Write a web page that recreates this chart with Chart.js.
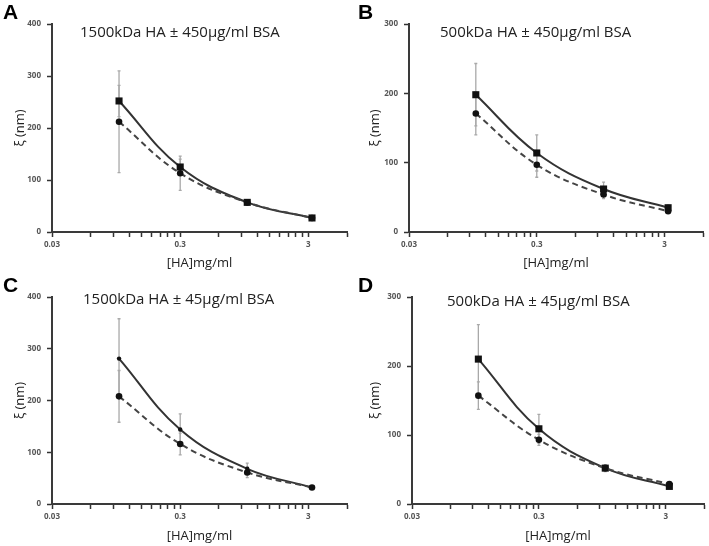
<!DOCTYPE html>
<html>
<head>
<meta charset="utf-8">
<script src="https://cdn.jsdelivr.net/npm/chart.js@4"></script>
<style>
  body { margin: 0; background: #fff; width: 709px; height: 546px; position: relative; overflow: hidden; }
  .panel { position: absolute; width: 354px; height: 273px; }
</style>
</head>
<body>
<div class="panel" style="left:0;top:0"><canvas id="panelA" width="354" height="273"></canvas></div>
<div class="panel" style="left:355px;top:0"><canvas id="panelB" width="354" height="273"></canvas></div>
<div class="panel" style="left:0;top:273px"><canvas id="panelC" width="354" height="273"></canvas></div>
<div class="panel" style="left:355px;top:273px"><canvas id="panelD" width="354" height="273"></canvas></div>

<script>
// concentraciones de HA (mg/ml), eje x logaritmico
const concentraciones = [0.1, 0.3, 1, 3.2]
const ticksMayores = [0.03, 0.3, 3]

// serie con cuadrados (linea continua) y serie con circulos (linea discontinua), xi en nm
const cuadradosA = [252, 125, 57, 27]
const circulosA = [212, 113, 57, 27]
const errCuadradosA = [30, 15, 5, 3]
const errCirculosA = [98, 33, 5, 3]

const cuadradosB = [198, 114, 62, 35]
const circulosB = [171, 97, 54, 30]
const errCuadradosB = [45, 26, 10, 4]
const errCirculosB = [31, 18, 6, 3]

const cuadradosC = [281, 144, 68, 32]
const circulosC = [208, 116, 61, 32]
const errCuadradosC = [77, 30, 11, 3]
const errCirculosC = [50, 21, 10, 3]

const cuadradosD = [210, 109, 52, 25.5]
const circulosD = [157, 93, 52, 29]
const errCuadradosD = [50, 21, 5, 3]
const errCirculosD = [20, 8, 4, 3]

const titulos = [
  '1500kDa HA \u00b1 450\u00b5g/ml BSA',
  '500kDa HA \u00b1 450\u00b5g/ml BSA',
  '1500kDa HA \u00b1 45\u00b5g/ml BSA',
  '500kDa HA \u00b1 45\u00b5g/ml BSA'
]

const barrasError = {
  id: 'barrasError',
  beforeDatasetsDraw(chart) {
    const ctx = chart.ctx
    const ex = chart.scales.x
    const ey = chart.scales.y
    ctx.save()
    ctx.strokeStyle = '#a9a9a9'
    ctx.lineWidth = 1.3
    chart.data.datasets.forEach(ds => {
      ds.errores.forEach((e, i) => {
        const p = ds.data[i]
        const px = ex.getPixelForValue(p.x)
        const arriba = ey.getPixelForValue(p.y + e)
        const abajo = ey.getPixelForValue(p.y - e)
        ctx.beginPath()
        ctx.moveTo(px, arriba)
        ctx.lineTo(px, abajo)
        ctx.moveTo(px - 1.5, arriba)
        ctx.lineTo(px + 1.5, arriba)
        ctx.moveTo(px - 1.5, abajo)
        ctx.lineTo(px + 1.5, abajo)
        ctx.stroke()
      })
    })
    ctx.restore()
  }
}

const textos = {
  id: 'textos',
  afterDraw(chart, args, opts) {
    const ctx = chart.ctx
    ctx.save()
    ctx.textBaseline = 'alphabetic'
    ctx.textAlign = 'left'
    ctx.fillStyle = '#000'
    ctx.font = 'bold 21px "Liberation Sans", Arial, sans-serif'
    ctx.fillText(opts.letra, 3, 19)
    ctx.fillStyle = '#222'
    ctx.font = '15px "Open Sans", sans-serif'
    ctx.fillText(opts.titulo, opts.tx, opts.ty)
    ctx.restore()
  }
}

function puntos(valores){
  return valores.map((v, i) => ({ x: concentraciones[i], y: v }))
}

function esMayor(v){
  return ticksMayores.some(m => Math.abs(v - m) < m * 0.01)
}

function crearPanel(id, letra, titulo, tx, ty, cuadrados, circulos, errCuad, errCirc, ymax, area, radioCuad, estiloCuad){
  const fuenteTicks = { family: '"Open Sans", sans-serif', size: 8, weight: 'bold' }
  const gridEjes = { display: true, drawOnChartArea: false, drawTicks: true, tickLength: 5, tickWidth: 1.5, tickColor: '#333', color: '#333' }
  new Chart(document.getElementById(id), {
    type: 'line',
    data: {
      datasets: [
        {
          data: puntos(circulos),
          errores: errCirc,
          borderColor: '#444',
          borderWidth: 2,
          borderDash: [6, 4],
          tension: 0.4,
          pointStyle: 'circle',
          pointRadius: 3.3,
          pointBackgroundColor: '#111',
          pointBorderColor: '#111',
          pointBorderWidth: 0
        },
        {
          data: puntos(cuadrados),
          errores: errCuad,
          borderColor: '#333',
          borderWidth: 2,
          tension: 0.4,
          pointStyle: estiloCuad,
          pointRadius: radioCuad,
          pointBackgroundColor: '#111',
          pointBorderColor: '#111',
          pointBorderWidth: 0
        }
      ]
    },
    options: {
      responsive: false,
      animation: false,
      events: [],
      layout: { padding: { left: 0, top: area.top, right: 354 - area.right, bottom: 0 } },
      plugins: {
        legend: { display: false },
        tooltip: { enabled: false },
        textos: { letra: letra, titulo: titulo, tx: tx, ty: ty }
      },
      scales: {
        x: {
          type: 'logarithmic',
          min: 0.03,
          max: 6,
          afterBuildTicks(escala){
            const lista = []
            ;[0.03, 0.3].forEach(m => {
              for(let k = 1; k <= 9; k++) lista.push({ value: m * k })
            })
            lista.push({ value: 3 }, { value: 6 })
            escala.ticks = lista
          },
          afterFit(escala){ escala.height = 273 - area.bottom },
          border: { display: true, color: '#3a3a3a', width: 2 },
          grid: gridEjes,
          ticks: {
            autoSkip: false,
            maxRotation: 0,
            padding: 3,
            color: '#555',
            font: fuenteTicks,
            callback: (v) => esMayor(v) ? String(Math.round(v * 100) / 100) : ''
          },
          title: {
            display: true,
            text: '[HA]mg/ml',
            color: '#222',
            font: { family: '"Open Sans", sans-serif', size: 13 },
            padding: { top: 0, bottom: 2 }
          }
        },
        y: {
          min: 0,
          max: ymax,
          afterFit(escala){ escala.width = area.left },
          border: { display: true, color: '#3a3a3a', width: 2 },
          grid: gridEjes,
          ticks: { stepSize: 100, padding: 6, color: '#555', font: fuenteTicks },
          title: {
            display: true,
            text: '\u03be (nm)',
            color: '#222',
            font: { family: '"Open Sans", sans-serif', size: 13 },
            padding: { top: 12, bottom: 0 }
          }
        }
      }
    },
    plugins: [barrasError, textos]
  })
}

crearPanel('panelA', 'A', titulos[0], 80, 37, cuadradosA, circulosA, errCuadradosA, errCirculosA, 400,
  { left: 52, right: 347, top: 24, bottom: 232 }, 5, 'rect')
crearPanel('panelB', 'B', titulos[1], 85, 37, cuadradosB, circulosB, errCuadradosB, errCirculosB, 300,
  { left: 54, right: 348, top: 24, bottom: 232 }, 5, 'rect')
crearPanel('panelC', 'C', titulos[2], 83, 31, cuadradosC, circulosC, errCuadradosC, errCirculosC, 400,
  { left: 52, right: 347, top: 24, bottom: 231 }, 2.2, 'circle')
crearPanel('panelD', 'D', titulos[3], 92, 33, cuadradosD, circulosD, errCuadradosD, errCirculosD, 300,
  { left: 57, right: 350, top: 24, bottom: 231 }, 5, 'rect')
</script>
</body>
</html>
